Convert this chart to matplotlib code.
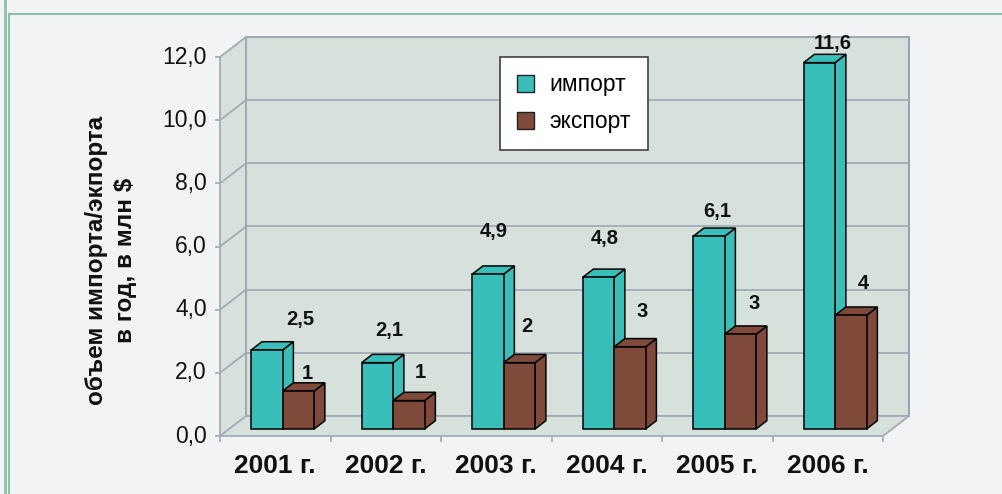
import matplotlib
matplotlib.use('Agg')
import matplotlib.pyplot as plt
from matplotlib.patches import Polygon, Patch
from matplotlib.lines import Line2D

plt.rcParams['font.family'] = ['Liberation Sans', 'DejaVu Sans']

# data
years = ['2001 г.', '2002 г.', '2003 г.', '2004 г.', '2005 г.', '2006 г.']
imports = [2.5, 2.1, 4.9, 4.8, 6.1, 11.6]
exports = [1.2, 0.9, 2.1, 2.6, 3.0, 3.6]
yticks = [0, 2, 4, 6, 8, 10, 12]
series_names = ['импорт', 'экспорт']
ylabel = 'объем импорта/экпорта\nв год, в млн $'

# hand-placed label nudges (pixels), as in the original chart
imp_off = [(33, 31), (12, 32), (6, 43), (6, 39), (8, 25), (13, 19)]
exp_off = [(9, 18), (11, 28), (8, 36), (12, 35), (14, 31), (12, 32)]

W, H = 1002, 494
bg = '#F2F3F5'
wall = '#D7E1DB'
grid_c = '#A3ABB8'
edge_c = '#8A94A8'
c_imp = '#38BFBA'
c_exp = '#7F4A3A'

fig = plt.figure(figsize=(W / 100, H / 100), dpi=100, facecolor=bg)
ax = fig.add_axes([220 / W, 58 / H, 663 / W, 379 / H])
ax.set_xlim(0, len(years))
ax.set_ylim(0, 12)
ax.axis('off')

n = len(years)
# depth of the pseudo-3d box in data units
DX = 26 / 663 * n
DY = 20 / 379 * 12
d0, d1 = 0.35, 0.765
gap, bw = 0.199, 0.285

# walls and floor
side = Polygon([(0, 0), (DX, DY), (DX, 12 + DY), (0, 12)], closed=True,
               fc=wall, ec='none', clip_on=False, zorder=0)
back = Polygon([(DX, DY), (n + DX, DY), (n + DX, 12 + DY), (DX, 12 + DY)], closed=True,
               fc=wall, ec=edge_c, lw=1.2, clip_on=False, zorder=0)
floor = Polygon([(0, 0), (n, 0), (n + DX, DY), (DX, DY)], closed=True,
                fc=wall, ec='none', clip_on=False, zorder=0)
for p in (side, back, floor):
    ax.add_patch(p)

for t in yticks:
    ax.plot([0, DX], [t, t + DY], color=grid_c, lw=1.3, clip_on=False, zorder=1)
    ax.plot([DX, n + DX], [t + DY, t + DY], color=grid_c, lw=1.3, clip_on=False, zorder=1)
    ax.plot([-4 / 663 * n, 0], [t, t], color=grid_c, lw=1.3, clip_on=False, zorder=1)
    ax.text(-13 / 663 * n, t, f'{t:.1f}'.replace('.', ','), ha='right', va='center',
            fontsize=16.5, color='#111111')
ax.plot([0, 0], [0, 12], color=grid_c, lw=1.3, clip_on=False, zorder=1)
ax.plot([DX, DX], [DY, 12 + DY], color=grid_c, lw=1.3, clip_on=False, zorder=1)
ax.plot([0, n, n + DX], [0, 0, DY], color=grid_c, lw=1.3, clip_on=False, zorder=1)
for i in range(n + 1):
    ax.plot([i, i], [0, -5 / 379 * 12], color=grid_c, lw=1.3, clip_on=False, zorder=1)


def draw_bar(x0, v, color):
    xl = x0 + d0 * DX
    xr = xl + bw
    yb = d0 * DY
    yt = v + d0 * DY
    ddx = (d1 - d0) * DX
    ddy = (d1 - d0) * DY
    faces = [
        [(xr, yb), (xr + ddx, yb + ddy), (xr + ddx, yt + ddy), (xr, yt)],
        [(xl, yt), (xr, yt), (xr + ddx, yt + ddy), (xl + ddx, yt + ddy)],
        [(xl, yb), (xr, yb), (xr, yt), (xl, yt)],
    ]
    for f in faces:
        ax.add_patch(Polygon(f, closed=True, fc=color, ec='black', lw=1.1,
                             joinstyle='miter', clip_on=False, zorder=3))
    return (xl + bw / 2, yt)


for i in range(n):
    a = draw_bar(i + gap, imports[i], c_imp)
    ax.annotate(f'{imports[i]:.1f}'.replace('.', ','), a, xytext=imp_off[i],
                textcoords='offset pixels', ha='center', va='center',
                fontsize=14.5, fontweight='bold', color='#111111', zorder=5)
    b = draw_bar(i + gap + bw, exports[i], c_exp)
    ax.annotate(f'{exports[i]:.0f}', b, xytext=exp_off[i],
                textcoords='offset pixels', ha='center', va='center',
                fontsize=14.5, fontweight='bold', color='#111111', zorder=5)
    ax.text(i + 0.5, -30 / 379 * 12, years[i], ha='center', va='center',
            fontsize=19, fontweight='bold', color='#111111')

fig.text(111 / W, 1 - 260 / H, ylabel, rotation=90, ha='center', va='center',
         multialignment='center', fontsize=17.5, fontweight='bold',
         linespacing=1.3, color='#111111')

handles = [Patch(fc=c_imp, ec='#222222', lw=1), Patch(fc=c_exp, ec='#222222', lw=1)]
leg = fig.legend(handles, series_names, loc='upper left',
                 bbox_to_anchor=(500 / W, 1 - 57 / H), frameon=True, fancybox=False,
                 edgecolor='#404040', facecolor='white', framealpha=1,
                 fontsize=16.5, handlelength=0.75, handleheight=0.75,
                 handletextpad=0.7, labelspacing=0.6, borderpad=0.72, borderaxespad=0)
leg.get_frame().set_linewidth(1.2)

# page frame lines
line_c = '#8FC0AC'
fig.add_artist(Line2D([5 / W, 5 / W], [0, 1], color=line_c, lw=2))
fig.add_artist(Line2D([9 / W, 9 / W], [0, 1 - 14 / H], color=line_c, lw=1.5))
fig.add_artist(Line2D([9 / W, 1], [1 - 14 / H, 1 - 14 / H], color=line_c, lw=1.5))

fig.savefig('out.png', dpi=100, facecolor=bg)
